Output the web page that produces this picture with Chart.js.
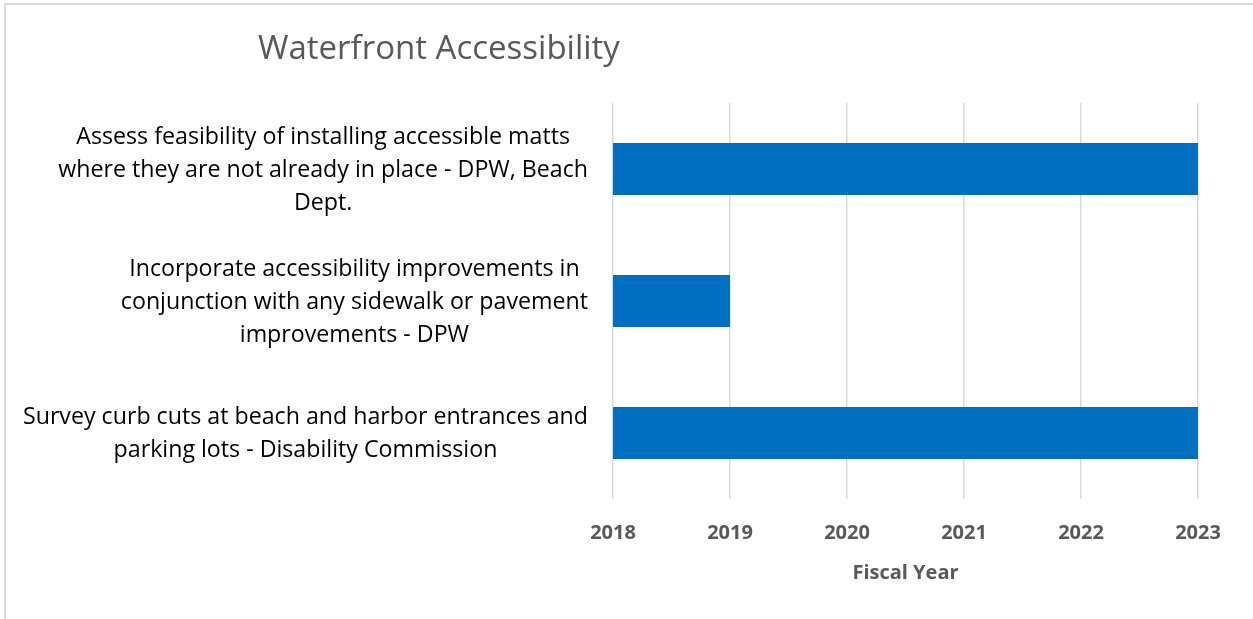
<!DOCTYPE html>
<html>
<head>
<meta charset="utf-8">
<script src="https://cdn.jsdelivr.net/npm/chart.js@4/dist/chart.umd.min.js"></script>
<style>
  html, body { margin: 0; padding: 0; background: #fff; }
  #wrap { position: relative; width: 1253px; height: 619px; }
  #frame {
    position: absolute; left: 4px; top: 3px; right: -10px; bottom: -10px;
    border-top: 2px solid #d9d9d9; border-left: 2px solid #d9d9d9;
    pointer-events: none;
  }
</style>
</head>
<body>
<div id="wrap">
  <canvas id="myChart" width="1253" height="619"></canvas>
  <div id="frame"></div>
</div>
<script>
const chartTitle = "Waterfront Accessibility";

const tasks = [
  ["Assess feasibility of installing accessible matts", "where they are not already in place - DPW, Beach", "Dept."],
  ["Incorporate accessibility improvements in", "conjunction with any sidewalk or pavement", "improvements - DPW"],
  ["Survey curb cuts at beach and harbor entrances and", "parking lots - Disability Commission"],
];
const startYears = [2018, 2018, 2018];
const endYears = [2023, 2019, 2023];

const yearMin = 2018;
const yearMax = 2023;

const LABEL_FONT = "23.2px 'Open Sans'";
const LABEL_LINE = 33;

// y labels: each block sits against the axis, its lines centred within the block
const taskLabels = {
  id: "taskLabels",
  afterDraw(chart)
  {
    const ctx = chart.ctx;
    const y = chart.scales.y;
    const right = chart.chartArea.left - 25;
    ctx.save();
    ctx.font = LABEL_FONT;
    ctx.fillStyle = "#000";
    ctx.textAlign = "center";
    ctx.textBaseline = "middle";
    tasks.forEach((lines, i) =>
    {
      const w = Math.max(...lines.map(l => ctx.measureText(l).width));
      const cx = right - w / 2;
      const cy = y.getPixelForValue(i) + 1;
      const top = cy - (lines.length - 1) * LABEL_LINE / 2;
      lines.forEach((l, k) => ctx.fillText(l, cx, top + k * LABEL_LINE));
    });

    ctx.font = "33px 'Open Sans'";
    ctx.fillStyle = "#595959";
    ctx.textAlign = "left";
    ctx.fillText(chartTitle, 258, 50);
    ctx.restore();
  }
};

const element = document.getElementById("myChart");

new Chart(element, {
  type: "bar",
  data: {
    labels: tasks.map(t => t.join(" ")),
    datasets: [{
      label: chartTitle,
      data: startYears.map((s, i) => [s, endYears[i]]),
      backgroundColor: "#0070c0",
      borderWidth: 0,
      borderSkipped: false,
      barPercentage: 0.394,
      categoryPercentage: 1,
    }],
  },
  options: {
    indexAxis: "y",
    responsive: false,
    animation: false,
    devicePixelRatio: 1,
    layout: {
      padding: { left: 13, top: 103, right: 55, bottom: 34 },
    },
    plugins: {
      legend: { display: false },
      title: { display: false },
      tooltip: { enabled: false },
    },
    scales: {
      x: {
        type: "linear",
        min: yearMin,
        max: yearMax,
        grid: { color: "#d9d9d9", lineWidth: 1.5, drawTicks: false },
        border: { display: false },
        ticks: {
          stepSize: 1,
          padding: 22,
          color: "#595959",
          font: { family: "'Open Sans'", size: 20, weight: "bold" },
          callback: v => String(v),
        },
        title: {
          display: true,
          text: "Fiscal Year",
          color: "#595959",
          font: { family: "'Open Sans'", size: 20, weight: "bold" },
          padding: { top: -6, bottom: 0 },
        },
      },
      y: {
        grid: { display: false },
        border: { display: false },
        ticks: { display: false },
        afterFit: s => { s.width = 600; },
      },
    },
  },
  plugins: [taskLabels],
});
</script>
</body>
</html>
